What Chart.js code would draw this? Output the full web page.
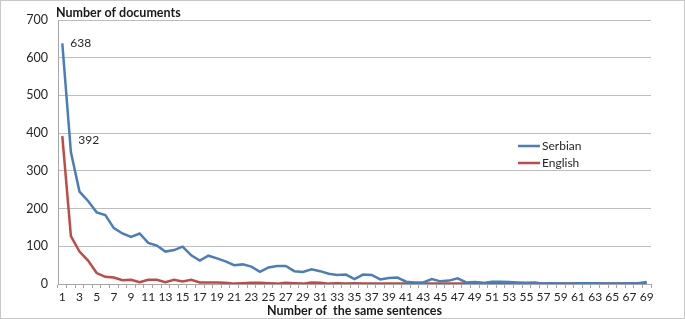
<!DOCTYPE html>
<html>
<head>
<meta charset="utf-8">
<script src="https://cdn.jsdelivr.net/npm/chart.js@4.4.1/dist/chart.umd.min.js"></script>
<style>
  html, body { margin: 0; padding: 0; background: #fff; }
  #wrap { width: 685px; height: 319px; box-sizing: border-box; border: 1px solid #c8c8c8; position: relative; }
  canvas { display: block; }
</style>
</head>
<body>
<div id="wrap"><canvas id="myChart" width="683" height="317"></canvas></div>
<script>
const categories = [];
for (let i = 1; i <= 69; i++) categories.push(String(i));

const serbian = [638, 350, 245, 220, 190, 183, 148, 134, 125, 134,
  109, 102, 86, 90, 99, 76, 62, 75, 68, 60,
  50, 52, 46, 32, 44, 48, 48, 34, 32, 39,
  34, 27, 24, 25, 13, 25, 24, 12, 16, 17,
  6, 4, 4, 13, 7, 9, 15, 4, 5, 3,
  6, 6, 5, 4, 3, 4, 1, 2, 1, 1,
  2, 2, 2, 1, 1, 1, 2, 2, 5];

const english = [392, 127, 86, 62, 29, 19, 17, 10, 11, 5,
  11, 11, 5, 11, 7, 11, 4, 4, 4, 3,
  1, 2, 3, 3, 2, 1, 3, 2, 1, 4,
  3, 1, 2, 1, 2, 1, 1, 1, 1, 1,
  1, 1, 1, 1, 1, 1, 1, 1, 1, 1,
  1, 1, 1, 1, 1, 1, 1, 1, 1, 1,
  1, 2, 2, 1, 1, 1, 1, 2, 2];

const yTitle = "Number of documents";
const xTitle = "Number of  the same sentences";
const FONT = "Lato, 'Open Sans', sans-serif";

const ctx = document.getElementById("myChart").getContext("2d");

// title above the y axis, point labels and the in-plot legend
const extras = {
  id: "extras",
  afterDraw(chart) {
    const { ctx, chartArea: { left, right, top } } = chart;
    ctx.save();
    ctx.fillStyle = "#1a1a1a";
    ctx.font = "bold 12.5px " + FONT;
    ctx.textBaseline = "middle";
    ctx.textAlign = "left";
    ctx.fillText(yTitle, left - 2, top - 7);

    // first-point value labels
    ctx.font = "12px " + FONT;
    ctx.fillStyle = "#262626";
    const offs = [[8, 0], [16, 4]];
    chart.data.datasets.forEach((ds, i) => {
      const pt = chart.getDatasetMeta(i).data[0];
      ctx.fillText(String(ds.data[0]), pt.x + offs[i][0], pt.y + offs[i][1]);
    });

    // legend
    const lx = right - 133;
    chart.data.datasets.forEach((ds, i) => {
      const ly = top + 126 + i * 17;
      ctx.strokeStyle = ds.borderColor;
      ctx.lineWidth = 2.5;
      ctx.beginPath();
      ctx.moveTo(lx, ly);
      ctx.lineTo(lx + 22, ly);
      ctx.stroke();
      ctx.fillStyle = "#262626";
      ctx.fillText(ds.label, lx + 24, ly);
    });
    ctx.restore();
  },
};

new Chart(ctx, {
  type: "line",
  data: {
    labels: categories,
    datasets: [
      {
        label: "Serbian",
        data: serbian,
        borderColor: "#4a7ebb",
        borderWidth: 2.5,
        pointRadius: 0,
        tension: 0,
      },
      {
        label: "English",
        data: english,
        borderColor: "#be4b48",
        borderWidth: 2.5,
        pointRadius: 0,
        tension: 0,
      },
    ],
  },
  options: {
    responsive: false,
    animation: false,
    layout: { padding: { left: 0, right: 33, top: 19, bottom: 0 } },
    scales: {
      y: {
        min: 0,
        max: 700,
        ticks: {
          stepSize: 100,
          color: "#262626",
          font: { family: FONT, size: 12.5 },
          padding: 10,
        },
        grid: { color: "#bdbdbd", drawTicks: false, lineWidth: 1 },
        border: { color: "#a6a6a6" },
        afterFit(scale) { scale.width = 57; },
      },
      x: {
        offset: true,
        grid: {
          drawOnChartArea: false,
          offset: true,
          tickLength: 4,
          color: "#a6a6a6",
        },
        border: { color: "#a6a6a6" },
        ticks: {
          autoSkip: false,
          maxRotation: 0,
          color: "#262626",
          font: { family: FONT, size: 12 },
          padding: 2,
          callback: (v, i) => (i % 2 === 0 ? categories[i] : ""),
        },
        title: {
          display: true,
          text: xTitle,
          color: "#1a1a1a",
          font: { family: FONT, size: 12.5, weight: "bold" },
          padding: { top: 0, bottom: 0 },
        },
        afterFit(scale) { scale.height = 34; },
      },
    },
    plugins: {
      legend: { display: false },
      tooltip: { enabled: false },
    },
  },
  plugins: [extras],
});
</script>
</body>
</html>
